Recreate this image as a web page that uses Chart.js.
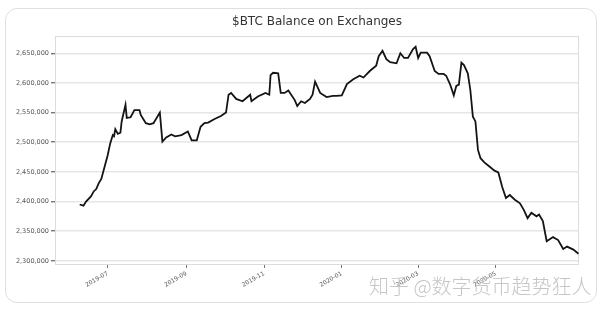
<!DOCTYPE html>
<html>
<head>
<meta charset="utf-8">
<script src="https://cdn.jsdelivr.net/npm/chart.js@4.4.1/dist/chart.umd.min.js"></script>
<style>
    body { margin: 0; background: #fff; }
    #wrap { position: relative; width: 600px; height: 311px; overflow: hidden; }
    #card { position: absolute; left: 5px; top: 8px; width: 590px; height: 293px; border: 1px solid #e0e0e0; border-radius: 12px; }
    #btcChart { position: absolute; left: 0; top: 0; }
    #mark { position: absolute; left: 369px; top: 271px; font: 300 20px "Noto Sans CJK SC"; color: #c6c6c6; white-space: nowrap; }
</style>
</head>
<body>
<div id="wrap">
    <div id="card"></div>
    <canvas id="btcChart" width="600" height="311"></canvas>
    <div id="mark">知乎 @数字货币趋势狂人</div>
</div>

<script>

// data
const dates = [
    "2019-06-09", "2019-06-12", "2019-06-14", "2019-06-18", "2019-06-20", "2019-06-22", "2019-06-24", "2019-06-26", "2019-06-29",
    "2019-07-01", "2019-07-03", "2019-07-05", "2019-07-06", "2019-07-07", "2019-07-09", "2019-07-11", "2019-07-12", "2019-07-15",
    "2019-07-16", "2019-07-19", "2019-07-22", "2019-07-26", "2019-07-27", "2019-07-31", "2019-08-03", "2019-08-06", "2019-08-11",
    "2019-08-13", "2019-08-16", "2019-08-20", "2019-08-23", "2019-08-28", "2019-09-02", "2019-09-05", "2019-09-09", "2019-09-12",
    "2019-09-15", "2019-09-18", "2019-09-23", "2019-09-28", "2019-10-02", "2019-10-04", "2019-10-06", "2019-10-10", "2019-10-15",
    "2019-10-21", "2019-10-22", "2019-10-27", "2019-11-02", "2019-11-05", "2019-11-06", "2019-11-08", "2019-11-12", "2019-11-14",
    "2019-11-17", "2019-11-20", "2019-11-25", "2019-11-27", "2019-11-30", "2019-12-03", "2019-12-07", "2019-12-09", "2019-12-11",
    "2019-12-15", "2019-12-20", "2019-12-25", "2019-12-28", "2020-01-01", "2020-01-05", "2020-01-10", "2020-01-15", "2020-01-18",
    "2020-01-23", "2020-01-28", "2020-01-30", "2020-02-02", "2020-02-05", "2020-02-08", "2020-02-13", "2020-02-16", "2020-02-19",
    "2020-02-22", "2020-02-26", "2020-02-28", "2020-03-01", "2020-03-03", "2020-03-08", "2020-03-10", "2020-03-14", "2020-03-17",
    "2020-03-21", "2020-03-23", "2020-03-26", "2020-03-29", "2020-03-31", "2020-04-02", "2020-04-04", "2020-04-06", "2020-04-09",
    "2020-04-11", "2020-04-13", "2020-04-15", "2020-04-17", "2020-04-19", "2020-04-22", "2020-04-26", "2020-04-30", "2020-05-03",
    "2020-05-06", "2020-05-09", "2020-05-12", "2020-05-16", "2020-05-20", "2020-05-23", "2020-05-26", "2020-05-29", "2020-06-02",
    "2020-06-04", "2020-06-07", "2020-06-10", "2020-06-15", "2020-06-19", "2020-06-23", "2020-06-26", "2020-07-01", "2020-07-05"
];

const balances = [
    2395000, 2393000, 2400000, 2409000, 2417000, 2421000, 2431000, 2438000, 2462000,
    2478000, 2498000, 2512000, 2510000, 2522000, 2514000, 2516000, 2535000, 2563000,
    2541000, 2542000, 2554000, 2554000, 2546000, 2532000, 2530000, 2532000, 2550000,
    2501000, 2508000, 2513000, 2510000, 2512000, 2518000, 2503000, 2503000, 2526000,
    2532000, 2533000, 2539000, 2544000, 2550000, 2580000, 2583000, 2573000, 2569000,
    2580000, 2569000, 2577000, 2583000, 2580000, 2613000, 2617000, 2616000, 2583000,
    2583000, 2587000, 2571000, 2561000, 2569000, 2566000, 2573000, 2580000, 2602000,
    2583000, 2576000, 2578000, 2578000, 2579000, 2598000, 2606000, 2612000, 2609000,
    2620000, 2629000, 2645000, 2654000, 2640000, 2635000, 2633000, 2650000, 2642000,
    2642000, 2657000, 2661000, 2642000, 2651000, 2651000, 2645000, 2620000, 2615000,
    2615000, 2612000, 2598000, 2579000, 2595000, 2597000, 2634000, 2630000, 2616000,
    2588000, 2543000, 2535000, 2487000, 2473000, 2466000, 2459000, 2452000, 2449000,
    2425000, 2406000, 2411000, 2403000, 2397000, 2386000, 2372000, 2381000, 2375000,
    2378000, 2367000, 2333000, 2340000, 2335000, 2320000, 2324000, 2319000, 2312000
];

const yTicks = [2300000, 2350000, 2400000, 2450000, 2500000, 2550000, 2600000, 2650000];

const xTickDates = ["2019-07-01", "2019-09-01", "2019-11-01", "2020-01-01", "2020-03-01", "2020-05-01"];
const xTickLabels = ["2019-07", "2019-09", "2019-11", "2020-01", "2020-03", "2020-05"];


// days since 2019-07-01
function dayOf(s) {
    const p = s.split("-");
    return (Date.UTC(+p[0], p[1] - 1, +p[2]) - Date.UTC(2019, 6, 1)) / 86400000;
}


// light frame round the plot
const frame = {
    id: "frame",
    beforeDatasetsDraw(chart) {
        const a = chart.chartArea;
        const ctx = chart.ctx;
        ctx.save();
        ctx.strokeStyle = "#dcdcdc";
        ctx.lineWidth = 1;
        ctx.strokeRect(a.left + 0.5, a.top + 0.5, a.right - a.left - 1, a.bottom - a.top - 1);
        ctx.restore();
    }
};


new Chart(
    document.getElementById("btcChart"),
    {
        type: "line",

        data: {
            datasets: [{
                data: dates.map((d, i) => ({ x: dayOf(d), y: balances[i] })),
                borderColor: "#141414",
                borderWidth: 1.8,
                pointRadius: 0,
                tension: 0
            }]
        },

        options: {
            responsive: false,
            animation: false,
            layout: { padding: { left: 0, right: 21, top: 0, bottom: 0 } },

            plugins: {
                legend: { display: false },
                tooltip: { enabled: false },
                title: {
                    display: true,
                    text: "$BTC Balance on Exchanges",
                    fullSize: false,
                    color: "#333",
                    font: { family: "DejaVu Sans", size: 12, weight: "normal", lineHeight: 1.5 },
                    padding: { top: 13, bottom: 5 }
                }
            },

            scales: {
                x: {
                    type: "linear",
                    min: -41.4,
                    max: 370.4,
                    afterBuildTicks: (scale) => {
                        scale.ticks = xTickDates.map(d => ({ value: dayOf(d) }));
                    },
                    afterFit: (scale) => { scale.height = 46; },
                    border: { display: false },
                    grid: {
                        drawOnChartArea: false,
                        tickLength: 3,
                        tickColor: "#777"
                    },
                    ticks: {
                        autoSkip: false,
                        maxRotation: 30,
                        minRotation: 30,
                        padding: 2,
                        color: "#555",
                        font: { family: "DejaVu Sans", size: 6 },
                        callback: (v, i) => xTickLabels[i]
                    }
                },
                y: {
                    min: 2293000,
                    max: 2679000,
                    afterBuildTicks: (scale) => {
                        scale.ticks = yTicks.map(v => ({ value: v }));
                    },
                    afterFit: (scale) => { scale.width = 55; },
                    border: { display: false },
                    grid: {
                        color: "#e6e6e6",
                        lineWidth: 1.4,
                        tickLength: 4,
                        tickColor: "#777"
                    },
                    ticks: {
                        padding: 2,
                        color: "#555",
                        font: { family: "DejaVu Sans", size: 6.5 },
                        callback: (v) => v.toLocaleString("en-US")
                    }
                }
            }
        },

        plugins: [frame]
    }
);

</script>
</body>
</html>
